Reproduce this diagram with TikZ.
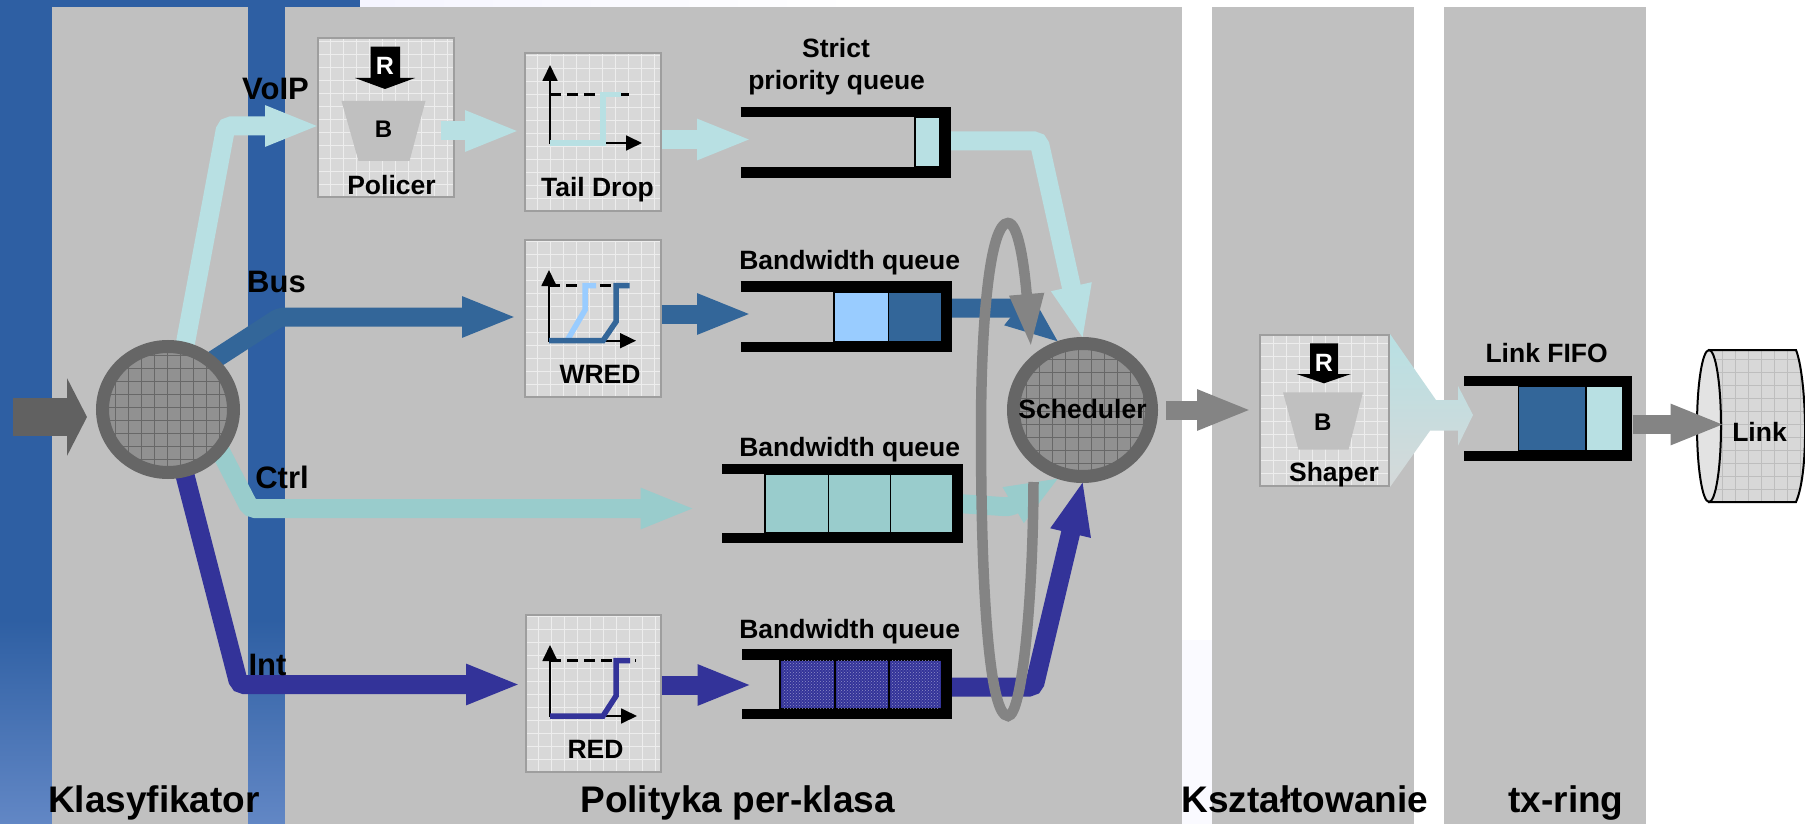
\documentclass[tikz,border=0pt]{standalone}
\usepackage{fontspec}
\setmainfont{Liberation Sans}
\usepackage{xcolor}
\usepackage{tikz}
\usetikzlibrary{shapes.geometric, arrows.meta, positioning, patterns}
\definecolor{stripB}{RGB}{46, 95, 163}
\definecolor{stripL}{RGB}{98, 135, 197}
\definecolor{panelG}{RGB}{192, 192, 192}
\definecolor{boxG}{RGB}{216, 216, 216}
\definecolor{voipC}{RGB}{184, 224, 227}
\definecolor{busC}{RGB}{51, 102, 153}
\definecolor{busL}{RGB}{153, 204, 255}
\definecolor{ctrlC}{RGB}{153, 204, 204}
\definecolor{intC}{RGB}{51, 51, 153}
\definecolor{ringG}{RGB}{102, 102, 102}
\definecolor{hubG}{RGB}{145, 145, 145}
\definecolor{loopG}{RGB}{132, 132, 132}
\pgfdeclarelayer{front}
\pgfsetlayers{main,front}

\begin{document}
\begin{tikzpicture}[
    x=1pt, y=-1pt,
    meshed/.style={path picture={
        \foreach \g in {0,13,...,273} {
            \draw[#1, line width=0.8pt] ([xshift=\g pt]path picture bounding box.south west) -- ++(0pt,300pt);
            \draw[#1, line width=0.8pt] ([yshift=\g pt]path picture bounding box.south west) -- ++(300pt,0pt);
        }}},
    lbl/.style={font=\fontsize{26.5pt}{30pt}\selectfont\bfseries, inner sep=0pt, anchor=base},
    tag/.style={font=\fontsize{31pt}{34pt}\selectfont\bfseries, inner sep=0pt, anchor=base},
    heading/.style={font=\fontsize{37pt}{40pt}\selectfont\bfseries, inner sep=0pt, anchor=base},
    iconbox/.style={rectangle, fill=boxG, draw=black!38, line width=2pt, inner sep=0pt, meshed=white!55!boxG},
    hub/.style={ellipse, fill=hubG, draw=ringG, line width=13pt, inner sep=0pt, meshed=black!28!hubG},
    flow/.style={line width=19pt, rounded corners=5pt, shorten >=-3.5pt, -{Triangle[length=55pt,width=37pt]}},
    queue/.style={rectangle, inner sep=0pt, outer sep=0pt},
    qframe/.style={draw=black, line width=10.5pt, line join=miter},
    cell/.style={draw=black, line width=1.3pt},
    trap/.style={fill=panelG},
    axis/.style={line width=1.8pt, {Triangle[length=16pt,width=15pt]}-{Triangle[length=16pt,width=15pt]}},
    limit/.style={line width=2.5pt, dash pattern=on 11pt off 6pt},
    curve/.style={line width=5.5pt}
]
    \useasboundingbox (0,0) rectangle (1805,824);
    \fill[white] (0,0) rectangle (1805,824);
    \fill[stripB] (0,0) rectangle (360,7);
    \shade[left color=blue!4!white, right color=white] (360,0) rectangle (860,7);
    \fill[stripB] (0,0) rectangle (52,620);
    \fill[stripB] (248,0) rectangle (285,620);
    \shade[top color=stripB, bottom color=stripL] (0,620) rectangle (52,824);
    \shade[top color=stripB, bottom color=stripL] (248,620) rectangle (285,824);
    \fill[blue!2!white] (1182,640) rectangle (1212,824);
    \fill[panelG] (52,7) rectangle (248,824);
    \fill[panelG] (285,7) rectangle (1182,824);
    \fill[panelG] (1212,7) rectangle (1414,824);
    \fill[panelG] (1444,7) rectangle (1646,824);

    \node[iconbox, minimum width=136pt, minimum height=159pt] (policer) at (385.5,117.5) {};
    \node[iconbox, minimum width=136pt, minimum height=158pt] (taildrop) at (592.5,132) {};
    \node[iconbox, minimum width=136pt, minimum height=157pt] (wred) at (592.5,318.5) {};
    \node[iconbox, minimum width=135pt, minimum height=157pt] (red) at (593,693.5) {};
    \node[iconbox, minimum width=129pt, minimum height=151pt] (shaper) at (1324.5,410.5) {};

    \begin{pgfonlayer}{front}
        \node[hub, minimum width=131pt, minimum height=126pt] (classifier) at (168,409.5) {};
        \node[hub, minimum width=138pt, minimum height=133pt] (scheduler) at (1082.5,410) {};
        \node[lbl] (schedlbl) at (1082.5,418) {Scheduler};
        \coordinate (loopin) at (1033.5,482);
        \coordinate (loopout) at (1031,347);
        \draw[loopG, line width=10.5pt, -{Triangle[length=53pt,width=32pt]}] (loopin)
            .. controls (1033,600) and (1022,716) .. (1008,716)
            .. controls (990,716) and (981,600) .. (981,430)
            .. controls (981,320) and (990,223) .. (1008,223)
            .. controls (1018,223) and (1024,262) .. (loopout);
    \end{pgfonlayer}

    \coordinate (inflow) at (13,417);
    \draw[ringG!95!black, line width=38pt, -{Triangle[length=20pt,width=77pt]}, shorten >=9pt] (inflow) -- (classifier.west |- inflow);

    \draw[flow, voipC] ([xshift=5pt]classifier.center) -- (226,126) -- (policer.west |- 226,126);
    \draw[flow, busC] ([yshift=20pt]classifier.center) -- (280,317) -- ([xshift=-10pt]wred.west |- 280,317);
    \draw[flow, intC] (classifier.center) -- (239,684.5) -- ([xshift=-7pt]red.west |- 239,684.5);

    \draw[flow, voipC] ([xshift=-14pt]policer.east |- 0,131) -- ([xshift=-7pt]taildrop.west |- 0,131);

    \node[queue, minimum width=205pt, minimum height=60.5pt] (strictq) at (843,142.2) {};
    \node[queue, minimum width=206.5pt, minimum height=60.5pt] (busq) at (843.8,316.7) {};
    \node[queue, minimum width=236pt, minimum height=69pt] (ctrlq) at (840,503.5) {};
    \node[queue, minimum width=205pt, minimum height=59.5pt] (intq) at (844.5,684.2) {};
    \node[queue, minimum width=163pt, minimum height=75pt] (fifoq) at (1545.5,418.5) {};

    \draw[flow, ctrlC] ([xshift=31pt]classifier.center) -- (250,508.5) -- ([xshift=-30pt]ctrlq.west |- 250,508.5);
    \draw[flow, voipC] (taildrop.east |- 0,139.5) -- ([xshift=8pt]strictq.west |- 0,139.5);
    \draw[flow, busC] (wred.east |- 0,314) -- ([xshift=8pt]busq.west |- 0,314);
    \draw[flow, intC] (red.east |- 0,685) -- ([xshift=7pt]intq.west |- 0,685);

    \draw[flow, voipC] (strictq.east |- 0,141) -- (1039,141) -- (scheduler.north);
    \draw[flow, busC] (busq.east |- 0,308) -- (1016,308) -- (scheduler.110);
    \draw[flow, ctrlC] (ctrlq.east) -- (1010,507) -- (scheduler.250);
    \draw[flow, intC] (intq.east |- 0,687) -- (1034,687) -- (scheduler.south);

    \draw[flow, loopG, shorten <=8pt, shorten >=7pt] (scheduler.east) -- (shaper.west |- scheduler.east);
    \shade[top color=voipC, bottom color=boxG!90!voipC] (shaper.north east) -- (1436,400) -- (1458,400) -- (1458,386) -- (1473,415)
        -- (1458,445.7) -- (1458,430.7) -- (1430,430.7) -- (shaper.south east) -- cycle;

    \filldraw[cell, fill=voipC] (915,117) rectangle (940,167);
    \filldraw[cell, fill=busL] (834,292) rectangle (888.5,342);
    \filldraw[cell, fill=busC] (888.5,292) rectangle (942,342);
    \foreach \xa/\xb in {765/828.5, 828.5/890.5, 890.5/953} {
        \filldraw[cell, fill=ctrlC] (\xa,474) rectangle (\xb,533);
    }
    \foreach \xa/\xb in {780/835, 835/889, 889/942} {
        \filldraw[cell, fill=intC] (\xa,660) rectangle (\xb,709);
        \fill[pattern=crosshatch dots, pattern color=intC!55!white] (\xa+2,660) rectangle (\xb-2,709);
    }
    \filldraw[cell, fill=busC] (1518.7,386) rectangle (1586,451);
    \filldraw[cell, fill=voipC] (1586,386) rectangle (1622.5,451);

    \draw[qframe] (strictq.north west) -- (strictq.north east) -- (strictq.south east) -- (strictq.south west);
    \draw[qframe] (busq.north west) -- (busq.north east) -- (busq.south east) -- (busq.south west);
    \draw[qframe] (ctrlq.north west) -- (ctrlq.north east) -- (ctrlq.south east) -- (ctrlq.south west);
    \draw[qframe] (intq.north west) -- (intq.north east) -- (intq.south east) -- (intq.south west);
    \draw[qframe] (fifoq.north west) -- (fifoq.north east) -- (fifoq.south east) -- (fifoq.south west);

    \fill[trap] (341.5,101) -- (425.5,101) -- (409.5,161) -- (358.5,161) -- cycle;
    \fill[black] (370.5,46.7) -- (400,46.7) -- (400,78) -- (415,78) -- (385,89) -- (355,78) -- (370.5,78) -- cycle;
    \node[lbl, text=white, font=\fontsize{25pt}{28pt}\selectfont\bfseries] (polr) at (385,75) {R};
    \node[lbl, font=\fontsize{24pt}{28pt}\selectfont\bfseries] (polb) at (383.5,138) {B};
    \node[lbl] (pollbl) at (391.5,194.7) {Policer};

    \fill[trap] (1283,392.3) -- (1363,392.3) -- (1348.5,449.7) -- (1298.4,449.7) -- cycle;
    \fill[black] (1310,343.3) -- (1338,343.3) -- (1338,374) -- (1351,374) -- (1324,383.3) -- (1296.5,374) -- (1310,374) -- cycle;
    \node[lbl, text=white, font=\fontsize{25pt}{28pt}\selectfont\bfseries] (shpr) at (1324,371.7) {R};
    \node[lbl, font=\fontsize{24pt}{28pt}\selectfont\bfseries] (shpb) at (1322.7,430) {B};
    \node[lbl] (shplbl) at (1334,481.7) {Shaper};

    \draw[axis] (550,65) -- (550,143) -- (642,143);
    \draw[limit] (550,94.7) -- (630,94.7);
    \draw[curve, voipC] (550,143) -- (603,143) -- (603,94.7) -- (620.5,94.7);
    \node[lbl] (taillbl) at (597.5,196.7) {Tail Drop};

    \draw[axis] (549,270) -- (549,340.7) -- (636,340.7);
    \draw[limit] (549,285.7) -- (634,285.7);
    \draw[curve, busL] (567,340.7) -- (585,310) -- (585,285.7) -- (596,285.7);
    \draw[curve, busC] (549,340.7) -- (603,340.7) -- (616,321.7) -- (616,285.7) -- (629.5,285.7);
    \node[lbl] (wredlbl) at (600,383) {WRED};

    \draw[axis] (550,645) -- (550,716) -- (637,716);
    \draw[limit] (550,660.7) -- (636,660.7);
    \draw[curve, intC] (550,716) -- (603,716) -- (616,696) -- (616,660.7) -- (630,660.7);
    \node[lbl] (redlbl) at (595.5,758) {RED};

    \node[lbl] (strictlbl) at (836,58) {Strict};
    \node[lbl] (prioritylbl) at (836.6,90) {priority queue};
    \node[lbl] (buslbl) at (849.7,269.6) {Bandwidth queue};
    \node[lbl] (ctrllbl) at (849.7,456) {Bandwidth queue};
    \node[lbl] (intlbl) at (849.7,638) {Bandwidth queue};
    \node[lbl] (fifolbl) at (1546.6,362.7) {Link FIFO};

    \node[tag] (voiptag) at (275.5,100) {VoIP};
    \node[tag] (bustag) at (276.5,292.7) {Bus};
    \node[tag] (ctrltag) at (282,488) {Ctrl};
    \node[tag] (inttag) at (267.5,675) {Int};

    \node[heading] (klashead) at (154,812.7) {Klasyfikator};
    \node[heading] (polhead) at (737.7,812.7) {Polityka per-klasa};
    \node[heading] (ksztalthead) at (1305,812.7) {Kształtowanie};
    \node[heading] (txhead) at (1566,812.7) {tx-ring};

    \path[fill=boxG, draw=black, line width=2pt, meshed=black!12!boxG] (1709,350) -- (1796,350) .. controls (1806,375) and (1810,470) .. (1796,502) -- (1709,502) -- cycle;
    \node[ellipse, fill=black!11, draw=black, line width=2pt, inner sep=0pt, minimum width=24pt, minimum height=152pt] (linkdisk) at (1709,426) {};
    \node[lbl] (linklbl) at (1759.5,441) {Link};
    \draw[flow, loopG] (fifoq.east |- 0,424.5) ++(5.5pt,0pt) -- (linkdisk.east |- 0,424.5);
\end{tikzpicture}
\end{document}
